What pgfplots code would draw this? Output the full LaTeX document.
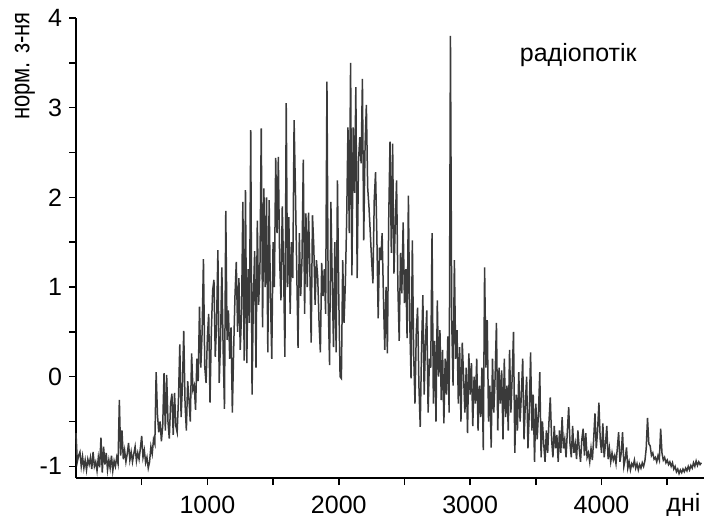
\documentclass[border=0pt]{standalone}
\usepackage{pgfplots}
\pgfplotsset{compat=1.18}
\usepackage{pgfplotstable}
\usepackage{graphicx}
\usepackage{fontspec}
\setmainfont{Liberation Sans}
\definecolor{linegray}{HTML}{3A3A3A}
\pgfplotstableread{
y
-0.63
-0.95
-0.88
-0.84
-1.0
-0.89
-1.02
-0.93
-1.04
-0.92
-0.98
-0.9
-1.03
-0.84
-1.0
-0.95
-1.05
-0.9
-1.01
-0.68
-1.07
-0.78
-0.98
-0.85
-1.04
-0.93
-1.02
-0.88
-1.05
-0.94
-1.0
-0.9
-0.97
-0.26
-0.88
-0.6
-0.92
-0.82
-0.95
-0.86
-0.74
-0.93
-0.84
-0.95
-0.86
-0.78
-0.94
-0.85
-0.92
-0.8
-0.66
-0.9
-0.82
-0.96
-0.9
-1.02
-0.95
-0.78
-0.86
-0.7
-0.75
0.05
-0.42
-0.62
-0.5
-0.72
-0.55
0.04
-0.6
0.02
-0.5
-0.69
-0.3
-0.19
-0.65
-0.18
-0.55
-0.62
-0.25
0.36
-0.45
-0.1
0.51
-0.3
-0.6
-0.05
-0.26
-0.5
0.26
-0.15
-0.1
-0.37
0.2
-0.05
0.78
0.1
0.5
1.31
0.11
-0.07
0.44
0.7
-0.29
0.5
0.96
1.08
0.22
0.6
1.41
-0.07
0.4
1.22
0.3
-0.36
1.85
0.41
0.74
0.2
0.55
-0.4
0.3
0.9
1.28
0.5
1.1
0.3
0.7
1.95
0.18
2.08
0.15
1.2
0.6
2.75
-0.2
0.9
1.4
0.1
1.74
0.8
1.2
2.77
0.55
2.1
1.0
2.0
0.27
1.97
0.9
0.2
1.5
1.0
2.44
1.6
2.45
1.3
0.85
1.9
1.2
0.22
3.05
1.0
1.78
0.7
1.5
1.1
2.86
2.08
1.2
0.32
1.6
0.9
1.3
2.42
0.7
1.82
1.0
1.83
1.2
0.38
1.8
1.45
0.8
1.3
1.1
0.6
0.27
1.27
0.9
1.2
0.7
3.29
0.8
0.13
1.95
1.08
0.33
1.5
0.27
2.19
0.9
0.0
-0.02
1.3
0.6
1.04
1.74
2.78
1.6
3.5
1.13
2.78
2.05
3.23
1.1
2.4
2.67
2.38
3.32
1.52
2.56
3.03
2.11
1.89
1.6
1.3
1.04
1.97
2.28
1.56
0.65
1.44
1.3
1.6
0.89
0.3
1.0
0.26
1.74
2.62
1.38
2.6
1.15
1.7
2.19
1.0
0.4
1.38
0.93
1.72
0.82
1.2
0.43
2.02
0.63
-0.02
1.52
0.26
-0.3
0.5
0.77
-0.1
-0.56
0.3
0.91
-0.2
0.4
0.74
-0.4
0.2
0.1
1.6
-0.3
0.4
-0.5
0.85
0.0
0.52
-0.26
0.3
-0.52
0.2
-0.2
0.45
-0.4
3.8
0.6
-0.1
1.3
0.2
0.52
-0.3
0.33
-0.5
0.38
0.0
-0.4
0.1
-0.63
0.26
-0.2
0.15
-0.55
0.0
-0.3
0.2
-0.6
-0.1
-0.45
0.1
-0.82
1.22
0.1
0.63
-0.5
-0.1
-0.79
0.2
-0.4
0.0
0.6
-0.6
0.1
-0.3
0.07
-0.7
0.2
-0.45
-0.1
-0.6
0.3
-0.4
0.0
0.5
-0.85
-0.2
-0.6
0.05
-0.5
-0.2
0.2
-0.7
-0.3
0.0
-0.8
-0.4
0.27
-0.6
-0.2
-0.95
-0.3
-0.7
-0.4
0.05
-0.9
-0.5
-0.75
-0.95
-0.6
-0.85
-0.5
-0.23
-0.7
-0.9
-0.55
-0.8
-0.65
-0.95
-0.6
-0.85
-0.45
-0.8
-0.7
-0.9
-0.6
-0.34
-0.75
-0.9
-0.55
-0.85
-0.75
-0.92
-0.6
-0.8
-0.95
-0.7
-0.58
-0.88
-0.63
-0.9
-0.85
-0.95
-0.8
-0.93
-0.7
-0.41
-0.8
-0.6
-0.29
-0.7
-0.85
-0.52
-0.9
-0.75
-0.55
-0.92
-0.8
-0.95
-0.85
-0.93
-0.88
-0.97
-0.8
-0.62
-0.95
-0.85
-0.62
-1.0
-0.92
-0.79
-1.02
-0.95
-1.04
-0.97
-1.0
-0.93
-1.02
-0.97
-1.04
-0.98
-1.02
-0.96
-1.0
-0.94
-0.8
-0.46
-0.75
-0.77
-0.88
-0.85
-0.92
-0.9
-0.95
-0.88
-0.93
-0.58
-0.85
-0.93
-0.9
-0.96
-0.93
-0.98
-0.95
-1.0
-0.96
-1.03
-1.0
-1.06
-1.03
-1.08
-1.04
-1.07
-1.03
-1.06
-1.02
-1.05
-1.0
-1.04
-0.99
-1.02
-0.96
-1.0
-0.94
-0.99
-0.95
-0.98
-0.96
}\radio

\begin{document}
\begin{tikzpicture}[font=\fontsize{12.5}{15}\selectfont]
\path[use as bounding box] (-38pt,-21.5pt) rectangle (314pt,239pt);
\begin{axis}[
  at={(0pt,0pt)}, anchor=south west,
  scale only axis, width=314pt, height=230pt,
  xmin=0, xmax=4780, ymin=-1.13, ymax=4,
  axis lines*=left,
  axis line style={-, line width=1pt, black},
  xtick={1000,2000,3000,4000},
  minor xtick={500,1500,2500,3500,4500},
  ytick={-1,0,1,2,3,4},
  minor ytick={-0.5,0.5,1.5,2.5,3.5},
  tick align=outside,
  major tick length=3.5pt, minor tick length=3.5pt,
  every tick/.style={line width=0.8pt, black},
  /pgf/number format/assume math mode=true,
  /pgf/number format/1000 sep={},
  ticklabel style={font=\fontsize{12.5}{15}\selectfont},
  xticklabel style={inner sep=0.5pt, yshift=-5pt},
  clip=false,
]
\addplot[color=linegray, line width=0.75pt] table[x expr=\coordindex*10, y index=0] {\radio};
\node at (axis cs:3823,3.59) {радіопотік};
\end{axis}
\node[anchor=base, inner sep=0.5pt] at (303.7pt, -16.5pt) {дні};
\node[rotate=90] at (-25.5pt,206pt) {\scalebox{0.88}[1.08]{норм. з-ня}};
\end{tikzpicture}
\end{document}
